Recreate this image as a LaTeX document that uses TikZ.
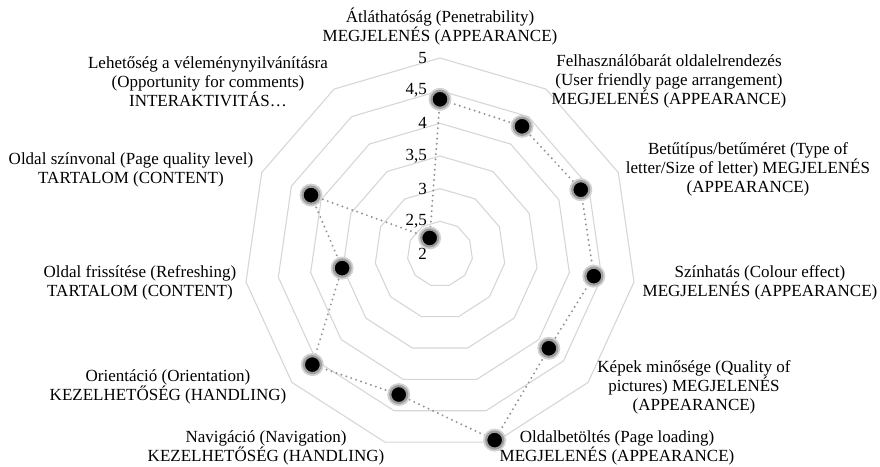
\documentclass[tikz,border=0pt]{standalone}
\usepackage{fontspec}
\setmainfont{Liberation Serif}
\usetikzlibrary{calc}
\begin{document}
\begin{tikzpicture}[x=1pt,y=1pt,
  gridring/.style={draw=black!16, line width=1.1pt},
  conn/.style={draw=black!42, line width=2.2pt, line cap=round, dash pattern=on 0pt off 5.2pt},
  dot/.style={circle, fill=black, draw=black!38, line width=2.2pt, inner sep=0pt, minimum size=17pt},
  glow/.style={circle, fill=black!18, inner sep=0pt, minimum size=23pt},
  lbl/.style={align=center, font=\fontsize{17}{19}\selectfont, inner sep=0pt},
  tick/.style={anchor=east, font=\fontsize{17}{18}\selectfont, inner sep=0pt}
]
\useasboundingbox (0,0) rectangle (880,-466);
\coordinate (C) at (440,-254);
% grid rings
\foreach \v in {1,...,6}{
  \pgfmathsetmacro{\r}{\v*32.67}
  \draw[gridring, shift={(440,-254)}] plot[samples at={0,...,10}] ({90-\x*32.7273}:\r) -- cycle;
}
% tick labels
\foreach \v/\t in {0/2,1/{2,5},2/3,3/{3,5},4/4,5/{4,5},6/5}{
  \node[tick] (t\v) at (427,{-254+\v*32.67}) {\t};
}
% data points
\foreach \k/\r in {0/154.7,1/151.8,2/154.8,3/155.4,4/144,5/194,6/146.5,7/168.9,8/98.9,9/141.8,10/19.1}{
  \coordinate (p\k) at ($(C)+({90-\k*32.7273}:\r)$);
}
\draw[conn] (p0) -- (p1) -- (p2) -- (p3) -- (p4) -- (p5) -- (p6) -- (p7) -- (p8) -- (p9) -- (p10) -- cycle;
\foreach \k in {0,...,10}{
  \node[glow] (g\k) at (p\k) {};
  \node[dot] (d\k) at (p\k) {};
}
% axis labels
\node[lbl] (l0) at (440,-26.5) {Átláthatóság (Penetrability)\\MEGJELENÉS (APPEARANCE)};
\node[lbl] (l1) at (669,-81) {Felhasználóbarát oldalelrendezés\\(User friendly page arrangement)\\MEGJELENÉS (APPEARANCE)};
\node[lbl] (l2) at (748,-169) {Betűtípus/betűméret (Type of\\letter/Size of letter) MEGJELENÉS\\(APPEARANCE)};
\node[lbl] (l3) at (760,-282.5) {Színhatás (Colour effect)\\MEGJELENÉS (APPEARANCE)};
\node[lbl] (l4) at (694,-387) {Képek minősége (Quality of\\pictures) MEGJELENÉS\\(APPEARANCE)};
\node[lbl] (l5) at (617,-448) {Oldalbetöltés (Page loading)\\MEGJELENÉS (APPEARANCE)};
\node[lbl] (l6) at (266,-448) {Navigáció (Navigation)\\KEZELHETŐSÉG (HANDLING)};
\node[lbl] (l7) at (168,-387) {Orientáció (Orientation)\\KEZELHETŐSÉG (HANDLING)};
\node[lbl] (l8) at (140,-282.5) {Oldal frissítése (Refreshing)\\TARTALOM (CONTENT)};
\node[lbl] (l9) at (131,-169.5) {Oldal színvonal (Page quality level)\\TARTALOM (CONTENT)};
\node[lbl] (l10) at (208,-81.5) {Lehetőség a véleménynyilvánításra\\(Opportunity for comments)\\INTERAKTIVITÁS…};
\end{tikzpicture}
\end{document}
